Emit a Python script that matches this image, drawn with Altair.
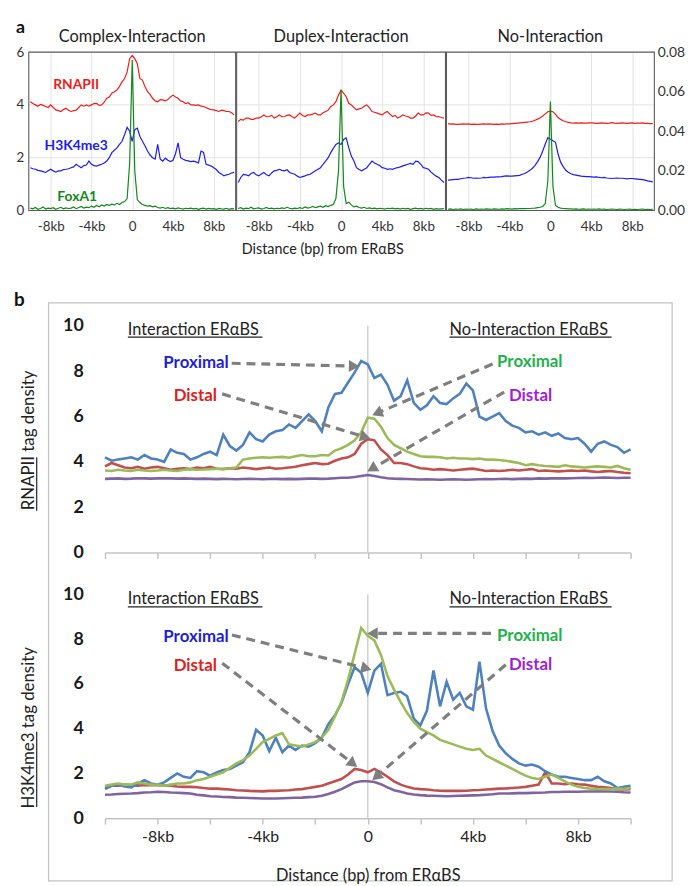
import math
import altair as alt
import pandas as pd

FONT = "Lato"

# x positions: distance from ERaBS in kb, one point every 0.25 kb
KB = [i / 4 for i in range(-40, 41)]

# ---------------- panel a : tag density (left axis 0-6), FoxA1 (right axis 0-0.08) ----------------
COMPLEX_RNAPII = [
    4.12, 4.05, 4.00, 3.95, 4.02, 3.98, 3.94, 3.90,
    4.00, 3.90, 3.81, 3.78, 3.75, 3.82, 3.87, 3.80,
    3.75, 3.78, 3.80, 3.90, 4.00, 3.95, 4.00, 3.95,
    4.00, 4.05, 4.06, 3.98, 4.00, 4.10, 4.25, 4.30,
    4.44, 4.50, 4.56, 4.70, 4.87, 5.00, 5.25, 5.75,
    5.87, 5.75, 5.56, 5.00, 4.94, 4.70, 4.50, 4.40,
    4.25, 4.15, 4.12, 4.20, 4.19, 4.15, 4.20, 4.30,
    4.37, 4.30, 4.25, 4.15, 4.12, 4.05, 4.08, 4.00,
    4.00, 3.98, 4.00, 3.95, 3.94, 3.90, 3.85, 3.82,
    3.81, 3.78, 3.75, 3.80, 3.78, 3.75, 3.75, 3.70,
    3.62]
COMPLEX_H3K4ME3 = [
    1.62, 1.58, 1.56, 1.52, 1.50, 1.47, 1.44, 1.50,
    1.56, 1.50, 1.45, 1.50, 1.50, 1.55, 1.56, 1.58,
    1.62, 1.65, 1.75, 1.68, 1.62, 1.70, 1.72, 1.87,
    1.75, 1.70, 1.68, 1.72, 1.75, 1.80, 1.87, 2.00,
    2.19, 2.28, 2.37, 2.50, 2.62, 2.87, 3.15, 3.00,
    2.62, 3.06, 3.12, 2.81, 2.62, 2.45, 2.25, 2.10,
    2.00, 1.95, 2.50, 1.94, 1.87, 1.98, 1.90, 1.85,
    1.90, 2.15, 2.56, 2.00, 1.94, 1.90, 1.88, 1.85,
    1.87, 1.84, 1.80, 2.25, 2.20, 1.75, 1.72, 1.68,
    1.62, 1.55, 1.44, 1.38, 1.31, 1.35, 1.37, 1.42,
    1.44]
COMPLEX_FOXA1 = [
    0.0012, 0.0008, 0.0015, 0.0006, 0.0010, 0.0018, 0.0007, 0.0012,
    0.0009, 0.0014, 0.0006, 0.0011, 0.0016, 0.0008, 0.0013, 0.0010,
    0.0012, 0.0018, 0.0009, 0.0015, 0.0020, 0.0012, 0.0017, 0.0014,
    0.0022, 0.0016, 0.0025, 0.0019, 0.0028, 0.0022, 0.0030, 0.0026,
    0.0032, 0.0028, 0.0036, 0.0030, 0.0040, 0.0045, 0.0060, 0.0240,
    0.0760, 0.0200, 0.0055, 0.0040, 0.0030, 0.0026, 0.0022, 0.0024,
    0.0018, 0.0022, 0.0015, 0.0012, 0.0016, 0.0010, 0.0014, 0.0009,
    0.0012, 0.0008, 0.0013, 0.0010, 0.0007, 0.0011, 0.0009, 0.0012,
    0.0008, 0.0010, 0.0006, 0.0009, 0.0012, 0.0007, 0.0010, 0.0008,
    0.0009, 0.0006, 0.0010, 0.0008, 0.0007, 0.0011, 0.0006, 0.0009,
    0.0008]
DUPLEX_RNAPII = [
    3.37, 3.45, 3.42, 3.50, 3.50, 3.45, 3.45, 3.50,
    3.50, 3.55, 3.62, 3.55, 3.56, 3.60, 3.50, 3.55,
    3.62, 3.55, 3.56, 3.60, 3.62, 3.55, 3.50, 3.60,
    3.69, 3.60, 3.56, 3.62, 3.62, 3.65, 3.69, 3.62,
    3.62, 3.70, 3.75, 3.80, 3.94, 4.00, 4.12, 4.37,
    4.56, 4.44, 4.31, 4.06, 4.00, 3.90, 3.81, 3.85,
    3.87, 3.95, 4.00, 3.90, 3.75, 3.72, 3.69, 3.65,
    3.62, 3.70, 3.75, 3.65, 3.56, 3.60, 3.50, 3.55,
    3.62, 3.58, 3.56, 3.50, 3.50, 3.58, 3.69, 3.62,
    3.62, 3.70, 3.69, 3.60, 3.62, 3.55, 3.56, 3.52,
    3.50]
DUPLEX_H3K4ME3 = [
    1.06, 1.25, 1.37, 1.35, 1.31, 1.40, 1.44, 1.35,
    1.31, 1.38, 1.44, 1.35, 1.31, 1.42, 1.50, 1.52,
    1.56, 1.52, 1.50, 1.54, 1.44, 1.40, 1.37, 1.30,
    1.25, 1.28, 1.31, 1.35, 1.37, 1.44, 1.50, 1.56,
    1.62, 1.75, 1.87, 2.00, 2.19, 2.35, 2.50, 2.56,
    2.50, 2.69, 2.75, 2.37, 2.06, 1.87, 1.62, 1.55,
    1.50, 1.56, 1.62, 1.75, 1.87, 1.80, 1.75, 1.70,
    1.62, 1.60, 1.56, 1.58, 1.56, 1.60, 1.62, 1.65,
    1.69, 1.72, 1.75, 1.78, 1.75, 1.87, 1.85, 1.75,
    1.62, 1.60, 1.56, 1.45, 1.37, 1.30, 1.25, 1.15,
    1.06]
DUPLEX_FOXA1 = [
    0.0010, 0.0014, 0.0007, 0.0012, 0.0009, 0.0016, 0.0008, 0.0011,
    0.0013, 0.0007, 0.0010, 0.0015, 0.0009, 0.0012, 0.0008, 0.0011,
    0.0009, 0.0013, 0.0010, 0.0016, 0.0011, 0.0008, 0.0012, 0.0010,
    0.0014, 0.0010, 0.0018, 0.0012, 0.0015, 0.0020, 0.0014, 0.0018,
    0.0022, 0.0016, 0.0024, 0.0020, 0.0026, 0.0030, 0.0060, 0.0200,
    0.0610, 0.0120, 0.0035, 0.0042, 0.0028, 0.0018, 0.0022, 0.0015,
    0.0012, 0.0016, 0.0010, 0.0013, 0.0009, 0.0012, 0.0008, 0.0011,
    0.0010, 0.0007, 0.0011, 0.0009, 0.0012, 0.0008, 0.0010, 0.0007,
    0.0011, 0.0008, 0.0010, 0.0006, 0.0009, 0.0012, 0.0008, 0.0010,
    0.0007, 0.0011, 0.0008, 0.0010, 0.0006, 0.0009, 0.0007, 0.0008,
    0.0009]
NOINT_RNAPII = [
    3.29, 3.27, 3.28, 3.26, 3.26, 3.27, 3.28, 3.27,
    3.28, 3.26, 3.27, 3.26, 3.26, 3.27, 3.28, 3.27,
    3.28, 3.27, 3.26, 3.27, 3.26, 3.28, 3.27, 3.28,
    3.28, 3.29, 3.30, 3.31, 3.32, 3.33, 3.34, 3.35,
    3.36, 3.38, 3.42, 3.46, 3.51, 3.58, 3.66, 3.74,
    3.76, 3.74, 3.64, 3.52, 3.45, 3.40, 3.36, 3.34,
    3.32, 3.31, 3.32, 3.31, 3.32, 3.31, 3.31, 3.32,
    3.32, 3.31, 3.30, 3.31, 3.32, 3.31, 3.30, 3.31,
    3.33, 3.31, 3.30, 3.31, 3.32, 3.31, 3.30, 3.31,
    3.32, 3.30, 3.31, 3.31, 3.32, 3.30, 3.30, 3.29,
    3.29]
NOINT_H3K4ME3 = [
    1.15, 1.16, 1.17, 1.18, 1.18, 1.20, 1.22, 1.23,
    1.25, 1.24, 1.22, 1.23, 1.22, 1.23, 1.25, 1.24,
    1.25, 1.26, 1.26, 1.27, 1.27, 1.28, 1.30, 1.31,
    1.30, 1.30, 1.31, 1.32, 1.33, 1.37, 1.40, 1.46,
    1.52, 1.60, 1.71, 1.85, 2.02, 2.25, 2.52, 2.76,
    2.70, 2.64, 2.58, 2.14, 1.83, 1.66, 1.52, 1.45,
    1.39, 1.36, 1.34, 1.32, 1.30, 1.29, 1.28, 1.28,
    1.27, 1.26, 1.27, 1.25, 1.24, 1.25, 1.23, 1.22,
    1.21, 1.22, 1.23, 1.22, 1.22, 1.21, 1.20, 1.21,
    1.21, 1.20, 1.19, 1.18, 1.17, 1.15, 1.12, 1.10,
    1.08]
NOINT_FOXA1 = [
    0.0006, 0.0008, 0.0005, 0.0007, 0.0006, 0.0008, 0.0005, 0.0007,
    0.0006, 0.0007, 0.0005, 0.0008, 0.0006, 0.0007, 0.0006, 0.0008,
    0.0007, 0.0006, 0.0008, 0.0007, 0.0006, 0.0008, 0.0007, 0.0009,
    0.0008, 0.0007, 0.0009, 0.0008, 0.0009, 0.0010, 0.0009, 0.0010,
    0.0010, 0.0011, 0.0012, 0.0014, 0.0016, 0.0020, 0.0035, 0.0150,
    0.0550, 0.0120, 0.0025, 0.0016, 0.0012, 0.0010, 0.0009, 0.0008,
    0.0008, 0.0007, 0.0008, 0.0006, 0.0007, 0.0008, 0.0006, 0.0007,
    0.0006, 0.0007, 0.0006, 0.0008, 0.0006, 0.0007, 0.0005, 0.0006,
    0.0007, 0.0006, 0.0005, 0.0007, 0.0006, 0.0005, 0.0006, 0.0007,
    0.0005, 0.0006, 0.0005, 0.0006, 0.0007, 0.0005, 0.0006, 0.0005,
    0.0006]

# ---------------- panel b : RNAPII tag density ----------------
RNAPII_INT_PROX = [
    4.20, 4.05, 4.10, 4.15, 4.20, 4.10, 4.30, 4.15,
    4.10, 4.00, 4.55, 4.40, 4.35, 4.10, 4.20, 4.35,
    4.45, 4.30, 5.20, 4.70, 4.50, 4.75, 5.30, 5.00,
    4.90, 5.20, 5.35, 5.40, 5.65, 5.50, 5.80, 6.10,
    5.80, 5.35, 6.40, 7.00, 7.05, 7.50, 7.95, 8.45,
    8.30, 7.70, 7.85, 7.40, 6.70, 6.90, 7.60, 6.60,
    6.30, 6.50, 6.90, 6.60, 6.55, 6.80, 7.00, 7.45,
    7.15, 6.00, 5.85, 6.00, 6.15, 5.80, 5.60, 5.50,
    5.30, 5.35, 5.20, 5.30, 5.15, 5.25, 5.05, 5.00,
    5.05, 4.80, 4.45, 4.80, 4.90, 4.75, 4.65, 4.40,
    4.55]
RNAPII_INT_DIST = [
    3.80, 3.95, 3.85, 3.75, 3.72, 3.78, 3.70, 3.75,
    3.78, 3.72, 3.65, 3.70, 3.72, 3.68, 3.75, 3.72,
    3.78, 3.70, 3.68, 3.72, 3.70, 3.75, 3.72, 3.68,
    3.72, 3.75, 3.70, 3.72, 3.75, 3.78, 3.85, 3.90,
    3.95, 3.90, 3.92, 4.05, 4.15, 4.20, 4.35, 4.80,
    5.00, 4.95, 4.55, 4.30, 3.95, 3.95, 3.90, 3.80,
    3.72, 3.70, 3.65, 3.68, 3.65, 3.62, 3.65, 3.68,
    3.70, 3.65, 3.60, 3.62, 3.60, 3.62, 3.65, 3.62,
    3.65, 3.68, 3.60, 3.62, 3.60, 3.58, 3.60, 3.62,
    3.60, 3.62, 3.58, 3.55, 3.58, 3.60, 3.55, 3.52,
    3.50]
RNAPII_NOINT_PROX = [
    3.62, 3.60, 3.65, 3.62, 3.60, 3.65, 3.62, 3.60,
    3.62, 3.65, 3.62, 3.60, 3.65, 3.68, 3.65, 3.66,
    3.68, 3.70, 3.70, 3.72, 3.75, 4.10, 4.15, 4.18,
    4.20, 4.18, 4.20, 4.22, 4.18, 4.25, 4.30, 4.25,
    4.25, 4.30, 4.28, 4.50, 4.60, 4.75, 4.95, 5.30,
    5.95, 5.90, 5.55, 5.05, 4.75, 4.60, 4.45, 4.35,
    4.25, 4.22, 4.22, 4.20, 4.15, 4.18, 4.15, 4.15,
    4.12, 4.15, 4.10, 4.10, 4.08, 4.05, 4.00, 3.95,
    3.85, 3.90, 3.85, 3.82, 3.80, 3.78, 3.85, 3.80,
    3.78, 3.75, 3.78, 3.80, 3.78, 3.75, 3.82, 3.72,
    3.65]
RNAPII_NOINT_DIST = [
    3.25, 3.26, 3.27, 3.25, 3.26, 3.28, 3.27, 3.26,
    3.27, 3.28, 3.27, 3.26, 3.27, 3.26, 3.25, 3.26,
    3.25, 3.24, 3.25, 3.24, 3.23, 3.24, 3.25, 3.24,
    3.23, 3.24, 3.25, 3.24, 3.25, 3.24, 3.25, 3.26,
    3.26, 3.25, 3.26, 3.28, 3.30, 3.30, 3.33, 3.38,
    3.42, 3.38, 3.32, 3.28, 3.26, 3.25, 3.24, 3.23,
    3.22, 3.23, 3.22, 3.21, 3.22, 3.23, 3.22, 3.21,
    3.22, 3.23, 3.24, 3.23, 3.24, 3.25, 3.24, 3.25,
    3.26, 3.25, 3.27, 3.26, 3.27, 3.28, 3.27, 3.28,
    3.29, 3.30, 3.29, 3.30, 3.31, 3.30, 3.29, 3.30,
    3.30]

# ---------------- panel b : H3K4me3 tag density ----------------
H3K4_INT_PROX = [
    1.30, 1.45, 1.50, 1.42, 1.38, 1.55, 1.70, 1.55,
    1.50, 1.60, 1.80, 2.00, 1.85, 1.80, 2.10, 2.05,
    1.90, 2.05, 2.15, 2.20, 2.35, 2.50, 2.95, 3.95,
    3.70, 3.00, 3.60, 2.95, 3.25, 3.05, 3.25, 3.20,
    3.35, 3.60, 4.20, 4.60, 5.15, 6.00, 6.75, 6.50,
    5.60, 6.60, 6.90, 5.50, 5.60, 5.65, 5.45, 4.45,
    4.15, 4.80, 6.60, 5.00, 6.10, 5.30, 5.60, 5.00,
    4.85, 7.00, 4.90, 3.90, 3.25, 2.90, 2.65, 2.45,
    2.35, 2.40, 2.30, 2.10, 1.95, 1.85, 1.85, 1.80,
    1.75, 1.70, 1.70, 1.85, 1.65, 1.55, 1.35, 1.40,
    1.45]
H3K4_INT_DIST = [
    1.40, 1.45, 1.45, 1.50, 1.47, 1.45, 1.48, 1.47,
    1.47, 1.46, 1.45, 1.42, 1.40, 1.40, 1.38, 1.35,
    1.32, 1.32, 1.30, 1.28, 1.25, 1.24, 1.22, 1.21,
    1.20, 1.22, 1.22, 1.24, 1.25, 1.28, 1.30, 1.35,
    1.40, 1.45, 1.55, 1.65, 1.75, 1.95, 2.20, 2.15,
    2.05, 2.20, 2.05, 1.85, 1.65, 1.50, 1.40, 1.33,
    1.30, 1.28, 1.25, 1.23, 1.22, 1.22, 1.22, 1.23,
    1.25, 1.26, 1.28, 1.30, 1.32, 1.33, 1.35, 1.37,
    1.40, 1.45, 1.50, 2.05, 1.55, 1.55, 1.52, 1.55,
    1.52, 1.50, 1.45, 1.40, 1.38, 1.35, 1.30, 1.28,
    1.30]
H3K4_NOINT_PROX = [
    1.45, 1.50, 1.55, 1.50, 1.50, 1.60, 1.55, 1.50,
    1.50, 1.45, 1.50, 1.55, 1.55, 1.60, 1.70, 1.75,
    1.85, 1.95, 2.05, 2.25, 2.45, 2.60, 2.80, 3.10,
    3.40, 3.55, 3.70, 3.80, 3.30, 3.25, 3.20, 3.30,
    3.40, 3.60, 3.95, 4.55, 5.20, 6.20, 7.35, 8.50,
    8.15, 7.95, 7.30, 6.35, 5.75, 5.20, 4.70, 4.30,
    4.00, 3.85, 3.70, 3.50, 3.40, 3.30, 3.20, 3.10,
    3.05, 3.10, 2.80, 2.65, 2.50, 2.35, 2.20, 2.05,
    1.90, 1.80, 1.75, 1.85, 1.95, 1.80, 1.65, 1.50,
    1.40, 1.35, 1.32, 1.30, 1.30, 1.30, 1.32, 1.30,
    1.35]
H3K4_NOINT_DIST = [
    1.05, 1.06, 1.08, 1.09, 1.10, 1.12, 1.15, 1.16,
    1.18, 1.17, 1.15, 1.14, 1.12, 1.10, 1.05, 1.02,
    0.98, 0.97, 0.95, 0.94, 0.92, 0.91, 0.90, 0.89,
    0.88, 0.88, 0.88, 0.89, 0.90, 0.91, 0.92, 0.94,
    0.96, 1.00, 1.08, 1.18, 1.30, 1.45, 1.60, 1.65,
    1.65, 1.62, 1.52, 1.38, 1.25, 1.18, 1.10, 1.06,
    1.03, 1.01, 1.00, 0.99, 0.98, 0.99, 1.00, 1.01,
    1.02, 1.03, 1.05, 1.07, 1.10, 1.10, 1.11, 1.12,
    1.12, 1.13, 1.14, 1.15, 1.17, 1.17, 1.18, 1.18,
    1.18, 1.19, 1.19, 1.20, 1.20, 1.19, 1.18, 1.16,
    1.15]

# ---------------- annotation text / arrows (data coordinates) ----------------
A_TITLES = ["Complex-Interaction", "Duplex-Interaction", "No-Interaction"]
A_LABELS = ["RNAPII", "H3K4me3", "FoxA1"]
A_LABEL_KB = [-5.5, -5.5, -5.4]
A_LABEL_V = [4.75, 2.43, 0.51]

HEADERS = ["Interaction ERαBS", "No-Interaction ERαBS"]
HEADER_KB = [-9.13, 3.11]
HEADER_END_KB = [-4.01, 9.28]
UP_HEADER_V, UP_UNDERLINE_V = 9.6, 9.5
LO_HEADER_V, LO_UNDERLINE_V = 9.56, 9.45

LEFT_LABELS = ["Proximal", "Distal"]
LEFT_KB = [-5.29, -5.74]
RIGHT_LABELS = ["Proximal", "Distal"]
RIGHT_KB = [4.92, 5.37]
UP_LEFT_V, UP_RIGHT_V = [8.35, 6.9], [8.39, 6.9]
LO_LEFT_V, LO_RIGHT_V = [8.1, 6.81], [8.14, 6.86]

UP_ARROWS = [(-5.18, 8.35, -0.32, 8.22), (-5.54, 7.0, 0.1, 5.03),
             (4.75, 8.32, 0.17, 6.06), (5.19, 7.08, -0.02, 3.58)]
LO_ARROWS = [(-5.17, 8.19, 0.14, 6.64), (-5.54, 6.93, -0.4, 2.29),
             (4.69, 8.26, -0.02, 8.26), (5.25, 6.86, 0.17, 1.7)]

# ---------------- styles ----------------
RED_A, BLUE_A, GREEN_A = "#f01c1c", "#1c1cf0", "#14861c"
GRID = "#e3e3e3"
FRAME = "#5a5a5a"
C_INT_PROX, C_INT_DIST, C_NO_PROX, C_NO_DIST = "#4f81bd", "#c0504d", "#9bbb59", "#8064a2"
L_INT_PROX, L_INT_DIST, L_NO_PROX, L_NO_DIST = "#1f1fd1", "#dd2020", "#22b14c", "#a020d8"
ARROW = "#7f7f7f"
TXT = "#222222"

KB_LABEL = "datum.value == 0 ? '0' : datum.value + 'kb'"
KB_LABEL_B = "abs(datum.value) % 4 == 0 ? (datum.value == 0 ? '0' : datum.value + 'kb') : ''"

A_RANGES = [(-77, 132), (133, 344), (345, 555)]
A_W, A_H = 555, 160
B_W, B_H1, B_TOP, B_H2 = 531, 229, 74.6, 226


def one(**cols):
    return pd.DataFrame({k: [v] for k, v in cols.items()})


def panel_a(i, rnapii, h3k, fox):
    r0, r1 = A_RANGES[i]
    df = pd.DataFrame({"kb": KB, "rnapii": rnapii, "h3k": h3k, "fox": fox})
    X = alt.X("kb:Q", scale=alt.Scale(domain=[-10.15, 10.15], range=[r0, r1], nice=False, zero=False),
              axis=alt.Axis(orient="bottom", values=[-8, -4, 0, 4, 8], labelExpr=KB_LABEL, grid=True,
                            gridColor=GRID, domain=False, ticks=False, labelPadding=9, labelFontSize=13.5,
                            labelColor="#333", labelFont=FONT, labelFlush=False, title=None))
    ys = alt.Scale(domain=[0, 6], nice=False, zero=False)
    if i == 0:
        ya = alt.Axis(orient="left", offset=77, values=[0, 2, 4, 6], grid=False, domain=False, ticks=False,
                      labelPadding=5, labelFontSize=13.5, labelColor="#333", labelFont=FONT, title=None)
    else:
        ya = None
    base = alt.Chart(df)
    inner = [
        base.mark_line(color=RED_A, strokeWidth=1.2).encode(x=X, y=alt.Y("rnapii:Q", scale=ys, axis=ya)),
        base.mark_line(color=BLUE_A, strokeWidth=1.2).encode(x=X, y=alt.Y("h3k:Q", scale=ys, axis=ya)),
    ]
    if i == 0:
        lab = pd.DataFrame({"kb": A_LABEL_KB, "v": A_LABEL_V, "t": A_LABELS, "c": [RED_A, BLUE_A, GREEN_A]})
        inner.append(alt.Chart(lab).mark_text(font=FONT, fontSize=14, fontWeight="bold", baseline="middle")
                     .encode(x=X, y=alt.Y("v:Q", scale=ys, axis=ya), text="t:N",
                             color=alt.Color("c:N", scale=None)))
    if i == 2:
        fa = alt.Axis(orient="right", values=[0, 0.02, 0.04, 0.06, 0.08], format=".2f", grid=False,
                      domain=False, ticks=False, labelPadding=3, labelFontSize=14, labelColor="#333",
                      labelFont=FONT, title=None)
    else:
        fa = None
    green = base.mark_line(color=GREEN_A, strokeWidth=1.2).encode(
        x=X, y=alt.Y("fox:Q", scale=alt.Scale(domain=[0, 0.08], nice=False, zero=False), axis=fa))
    return alt.layer(alt.layer(*inner), green).resolve_scale(y="independent")


# ---------- top row (panel a) as one layered view ----------
grid_rules = alt.Chart(pd.DataFrame({"v": [2, 4]})).mark_rule(color=GRID, strokeWidth=1).encode(
    y=alt.Y("v:Q", scale=alt.Scale(domain=[0, 6], nice=False), axis=None),
    x=alt.value(A_RANGES[0][0]), x2=alt.value(A_RANGES[2][1]))

top_layers = [grid_rules,
              panel_a(0, COMPLEX_RNAPII, COMPLEX_H3K4ME3, COMPLEX_FOXA1),
              panel_a(1, DUPLEX_RNAPII, DUPLEX_H3K4ME3, DUPLEX_FOXA1),
              panel_a(2, NOINT_RNAPII, NOINT_H3K4ME3, NOINT_FOXA1)]
for (r0, r1), ttl in zip(A_RANGES, A_TITLES):
    top_layers.append(alt.Chart(one(t=0)).mark_rect(fillOpacity=0, stroke=FRAME, strokeWidth=1.1).encode(
        x=alt.value(r0), x2=alt.value(r1), y=alt.value(0), y2=alt.value(A_H)))
    top_layers.append(alt.Chart(one(t=ttl)).mark_text(font=FONT, fontSize=16.5, color=TXT, align="center",
                                                       baseline="alphabetic").encode(
        x=alt.value((r0 + r1) / 2), y=alt.value(-10.7), text="t:N"))
top_layers.append(alt.Chart(one(t="Distance (bp) from ERαBS")).mark_text(
    font=FONT, fontSize=14.5, color=TXT, align="center", baseline="middle").encode(
    x=alt.value(220), y=alt.value(200.3), text="t:N"))
top_layers.append(alt.Chart(one(t="a")).mark_text(
    font=FONT, fontSize=18, fontWeight="bold", color="#111", align="left", baseline="alphabetic").encode(
    x=alt.value(-90), y=alt.value(-19.5), text="t:N"))
top_layers.append(alt.Chart(one(t=0)).mark_rect(opacity=0).encode(
    x=alt.value(-97), x2=alt.value(-96), y=alt.value(-43.7), y2=alt.value(-42.7)))

top = alt.layer(*top_layers).resolve_scale(x="independent", y="independent").properties(width=A_W, height=A_H)


# ---------- panel b ----------
def arrow_frames(arrows, pxk, pxv, back=5.3):
    lines, heads = [], []
    for x0, y0, x1, y1 in arrows:
        dx = (x1 - x0) * pxk
        dy = -(y1 - y0) * pxv
        L = math.hypot(dx, dy)
        ux, uy = dx / L, dy / L
        cx = x1 - ux * back / pxk
        cy = y1 + uy * back / pxv
        lines.append({"kb": x0, "v": y0, "kb2": cx, "v2": cy})
        heads.append({"kb": cx, "v": cy, "ang": math.degrees(math.atan2(ux, -uy)) % 360})
    return pd.DataFrame(lines), pd.DataFrame(heads)


def panel_b(lower, series, header_v, underline_v, left_v, right_v, arrows, ytitle, ytitle_y, ul_y):
    H = B_H2 if lower else B_H1 + B_TOP
    yrange = [H, 0] if lower else [H, B_TOP]
    common = dict(values=list(range(-10, 11, 2)), domainColor="#c4c4c4", domainWidth=1.5,
                  tickColor="#c4c4c4", tickWidth=1.5, tickSize=6, grid=False, labelFlush=False)
    if lower:
        xa = alt.Axis(labelExpr=KB_LABEL_B, labelFontSize=16, labelColor=TXT, labelFont=FONT, labelPadding=5,
                      title="Distance (bp) from ERαBS", titleFont=FONT, titleFontSize=16.5,
                      titleFontWeight="normal", titleColor=TXT, titlePadding=23, **common)
    else:
        xa = alt.Axis(labels=False, title=None, **common)
    ya = alt.Axis(values=[0, 2, 4, 6, 8, 10], labelFontSize=18, labelFontWeight="bold", labelColor="#1a1a1a",
                  labelFont=FONT, labelPadding=22, domain=False, ticks=False, grid=False, title=None)
    XS = alt.Scale(domain=[-10, 10], nice=False, zero=False)
    YS = alt.Scale(domain=[0, 10], nice=False, zero=False, range=yrange)

    def X(f="kb:Q"):
        return alt.X(f, scale=XS, axis=xa)

    def Y(f="v:Q"):
        return alt.Y(f, scale=YS, axis=ya)

    layers = []
    if not lower:
        layers.append(alt.Chart(one(t=0)).mark_rect(fillOpacity=0, stroke="#c4c4c4", strokeWidth=1.3).encode(
            x=alt.value(-57), x2=alt.value(573), y=alt.value(51.3), y2=alt.value(635.3)))
        layers.append(alt.Chart(one(t="b")).mark_text(
            font=FONT, fontSize=19, fontWeight="bold", color="#111", align="left", baseline="alphabetic").encode(
            x=alt.value(-92), y=alt.value(54.6), text="t:N"))
    layers.append(alt.Chart(pd.DataFrame({"kb": [0], "v": [0], "v2": [10]})).mark_rule(
        color="#cfcfcf", strokeWidth=1.5).encode(x=X(), y=Y(), y2="v2:Q"))
    for vals, col in series:
        layers.append(alt.Chart(pd.DataFrame({"kb": KB, "v": vals})).mark_line(
            color=col, strokeWidth=2.6).encode(x=X(), y=Y()))
    hd = pd.DataFrame({"kb": HEADER_KB, "v": [header_v] * 2, "t": HEADERS})
    layers.append(alt.Chart(hd).mark_text(font=FONT, fontSize=16.5, color=TXT, align="left",
                                          baseline="alphabetic").encode(x=X(), y=Y(), text="t:N"))
    ul = pd.DataFrame({"kb": HEADER_KB, "kb2": HEADER_END_KB, "v": [underline_v] * 2})
    layers.append(alt.Chart(ul).mark_rule(color=TXT, strokeWidth=1.2).encode(x=X(), x2="kb2:Q", y=Y()))
    ln, hdz = arrow_frames(arrows, B_W / 20, (B_H2 if lower else B_H1) / 10)
    layers.append(alt.Chart(ln).mark_rule(color=ARROW, strokeWidth=3.2, strokeDash=[9, 6]).encode(
        x=X(), y=Y(), x2="kb2:Q", y2="v2:Q"))
    layers.append(alt.Chart(hdz).mark_point(shape="triangle-up", filled=True, size=150, color=ARROW,
                                            opacity=1).encode(x=X(), y=Y(), angle=alt.Angle("ang:Q", scale=None)))
    ll = pd.DataFrame({"kb": LEFT_KB, "v": left_v, "t": LEFT_LABELS, "c": [L_INT_PROX, L_INT_DIST]})
    layers.append(alt.Chart(ll).mark_text(font=FONT, fontSize=17, fontWeight="bold", align="right",
                                          baseline="middle").encode(
        x=X(), y=Y(), text="t:N", color=alt.Color("c:N", scale=None)))
    rl = pd.DataFrame({"kb": RIGHT_KB, "v": right_v, "t": RIGHT_LABELS, "c": [L_NO_PROX, L_NO_DIST]})
    layers.append(alt.Chart(rl).mark_text(font=FONT, fontSize=17, fontWeight="bold", align="left",
                                          baseline="middle").encode(
        x=X(), y=Y(), text="t:N", color=alt.Color("c:N", scale=None)))
    layers.append(alt.Chart(one(t=ytitle)).mark_text(font=FONT, fontSize=17, color=TXT, angle=270,
                                                      align="center", baseline="alphabetic").encode(
        x=alt.value(-72), y=alt.value(ytitle_y), text="t:N"))
    layers.append(alt.Chart(one(t=0)).mark_rule(color=TXT, strokeWidth=1.2).encode(
        x=alt.value(-69), y=alt.value(ul_y[0]), y2=alt.value(ul_y[1])))
    return alt.layer(*layers).properties(width=B_W, height=H)


upper = panel_b(False,
                [(RNAPII_NOINT_DIST, C_NO_DIST), (RNAPII_INT_DIST, C_INT_DIST),
                 (RNAPII_NOINT_PROX, C_NO_PROX), (RNAPII_INT_PROX, C_INT_PROX)],
                UP_HEADER_V, UP_UNDERLINE_V, UP_LEFT_V, UP_RIGHT_V, UP_ARROWS,
                "RNAPII tag density", 190.3, (261.3, 207.3))
lower = panel_b(True,
                [(H3K4_NOINT_DIST, C_NO_DIST), (H3K4_INT_DIST, C_INT_DIST),
                 (H3K4_INT_PROX, C_INT_PROX), (H3K4_NOINT_PROX, C_NO_PROX)],
                LO_HEADER_V, LO_UNDERLINE_V, LO_LEFT_V, LO_RIGHT_V, LO_ARROWS,
                "H3K4me3 tag density", 134.7, (214.7, 138.7))

chart = alt.vconcat(top, upper, lower, spacing=42, bounds="flush").properties(
    padding={"left": 0, "top": -5, "right": 0, "bottom": 0}
).configure(font=FONT).configure_view(stroke="transparent")

chart.save("out.html", embed_options={"renderer": "svg", "actions": False})
